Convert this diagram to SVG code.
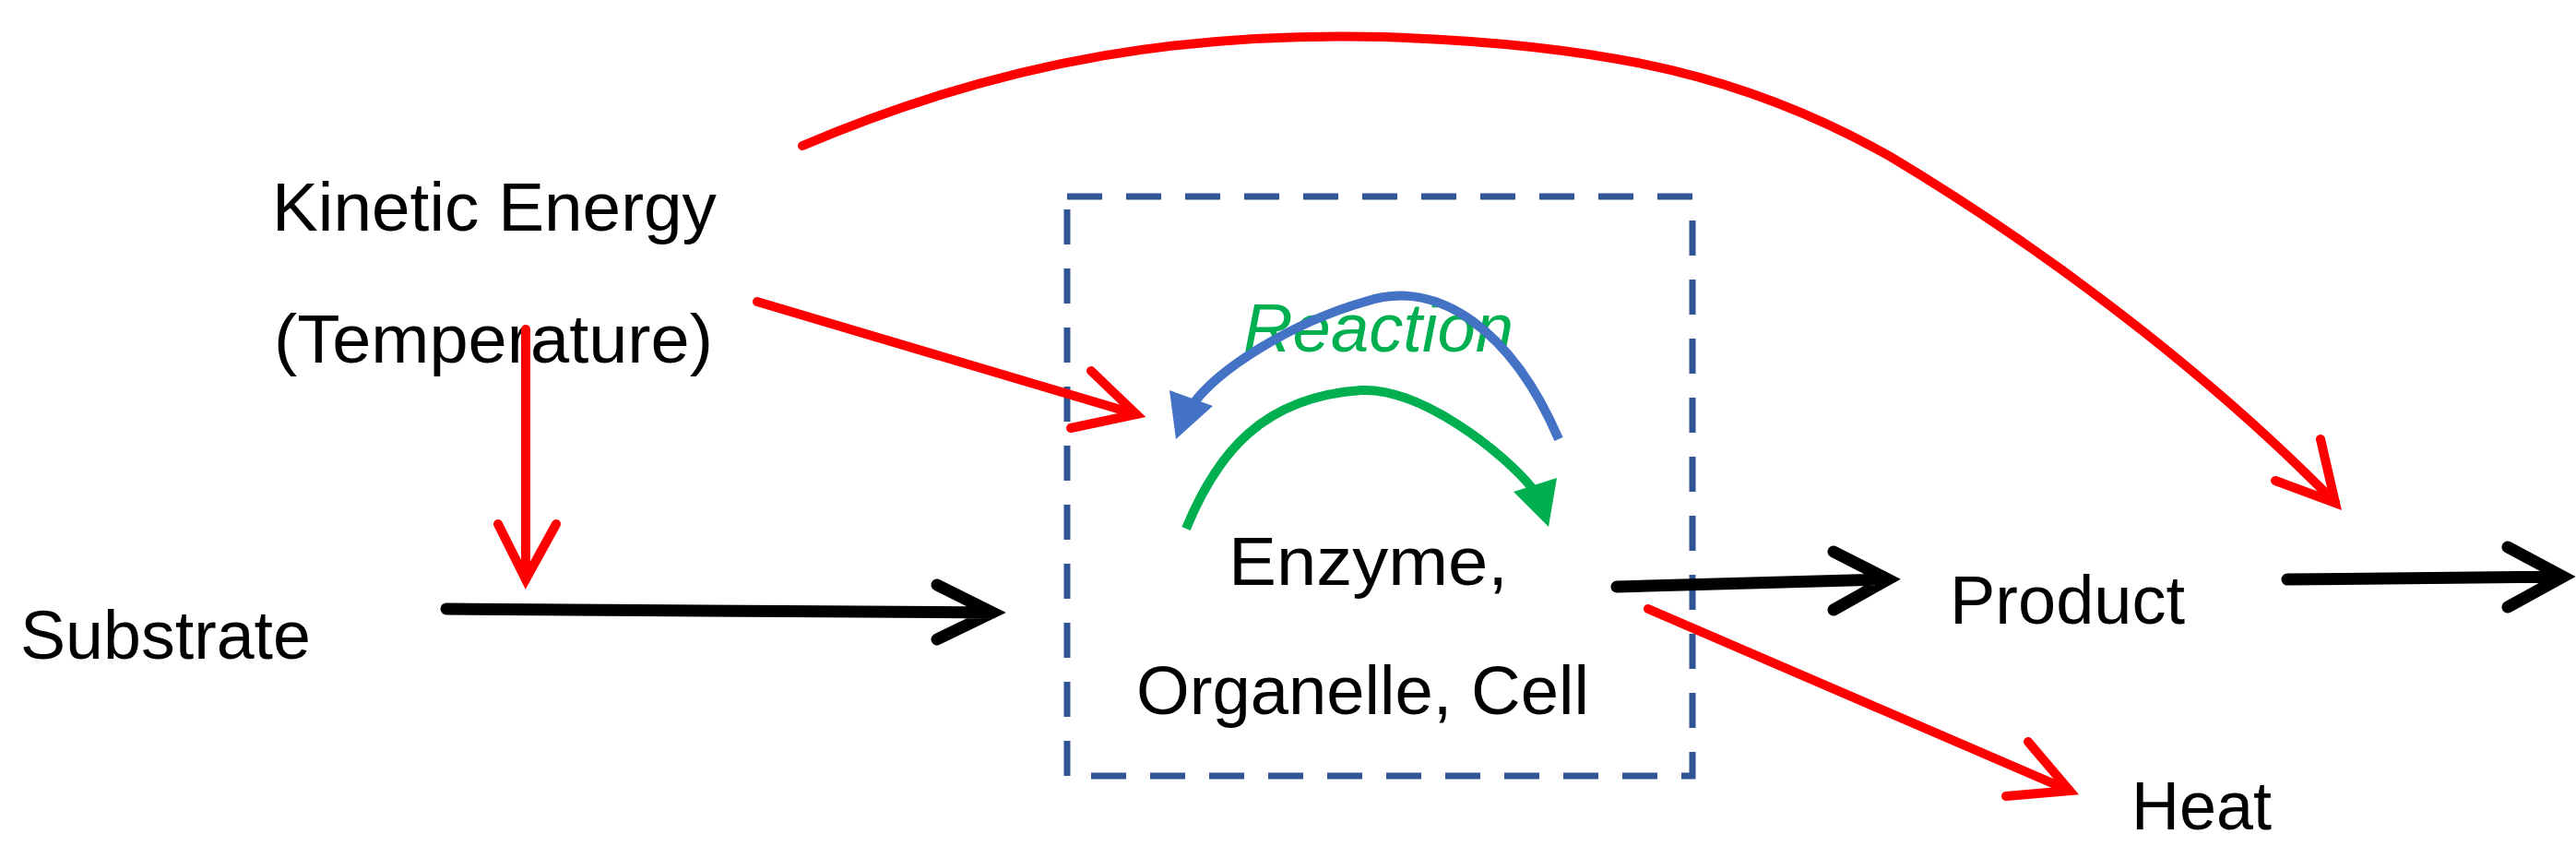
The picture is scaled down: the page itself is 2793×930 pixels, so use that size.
<svg xmlns="http://www.w3.org/2000/svg" width="2793" height="930" viewBox="0 0 2793 930">
<style>
text{font-family:"Liberation Sans",Arial,sans-serif;font-size:74px;fill:#000}
.r{stroke:#FF0000;fill:none;stroke-width:10;stroke-linecap:round;stroke-linejoin:miter}
.k{stroke:#000;fill:none;stroke-width:13;stroke-linecap:round}
</style>
<rect width="2793" height="930" fill="#fff"/>
<g id="box"><rect x="1157" y="213" width="678" height="628" fill="none" stroke="#2F5597" stroke-width="7" stroke-dasharray="38,26"/></g>
<g id="kinetic"><text x="295" y="250" textLength="482" lengthAdjust="spacingAndGlyphs">Kinetic Energy</text><text x="297" y="393" textLength="476" lengthAdjust="spacingAndGlyphs">(Temperature)</text></g>
<g id="substrate"><text x="22" y="714" textLength="315" lengthAdjust="spacingAndGlyphs">Substrate</text></g>
<g id="enzyme"><text x="1332" y="634" textLength="303" lengthAdjust="spacingAndGlyphs">Enzyme,</text><text x="1232" y="774" textLength="491" lengthAdjust="spacingAndGlyphs">Organelle, Cell</text></g>
<g id="reaction"><text x="1348" y="381" textLength="293" lengthAdjust="spacingAndGlyphs" style="fill:#00B050;font-style:italic">Reaction</text></g>
<g id="product"><text x="2114" y="676" textLength="255" lengthAdjust="spacingAndGlyphs">Product</text></g>
<g id="heat"><text x="2311" y="899" textLength="152" lengthAdjust="spacingAndGlyphs">Heat</text></g>
<g id="connectors">
<path class="r" d="M870,158 C1100,60 1300,35 1500,40 C1750,48 1900,85 2050,170 C2250,290 2420,430 2532,545"/>
<path class="r" d="M2467,521 L2532,545 L2516,476"/>
<path class="r" d="M821,327 L1232,449"/>
<path class="r" d="M1161,464 L1232,449 L1183,402"/>
<path class="r" stroke-width="7" d="M570,357 L570,628"/>
<path class="r" stroke-width="7" d="M540,568 L570,628 L603,568"/>
<path class="r" d="M1787,660 L2244,857"/>
<path class="r" d="M2175,863 L2244,857 L2199,804"/>
<path class="k" d="M484,660 L1076,664 M1016,634 L1076,664 L1016,693"/>
<path class="k" d="M1753,636 L2047,628 M1988,598 L2047,628 L1988,661"/>
<path class="k" d="M2480,628 L2779,625 M2719,593 L2779,625 L2719,658"/>
<path d="M1690,476 C1640,360 1560,300 1480,327 C1400,350 1320,400 1292,440" fill="none" stroke="#4472C4" stroke-width="10"/>
<path d="M1268,423 L1315,440 L1275,476 Z" fill="#4472C4"/>
<path d="M1286,573 C1320,490 1370,430 1476,423 C1540,420 1630,490 1662,530" fill="none" stroke="#00B050" stroke-width="10"/>
<path d="M1641,533 L1688,518 L1679,571 Z" fill="#00B050"/>
</g>
</svg>
